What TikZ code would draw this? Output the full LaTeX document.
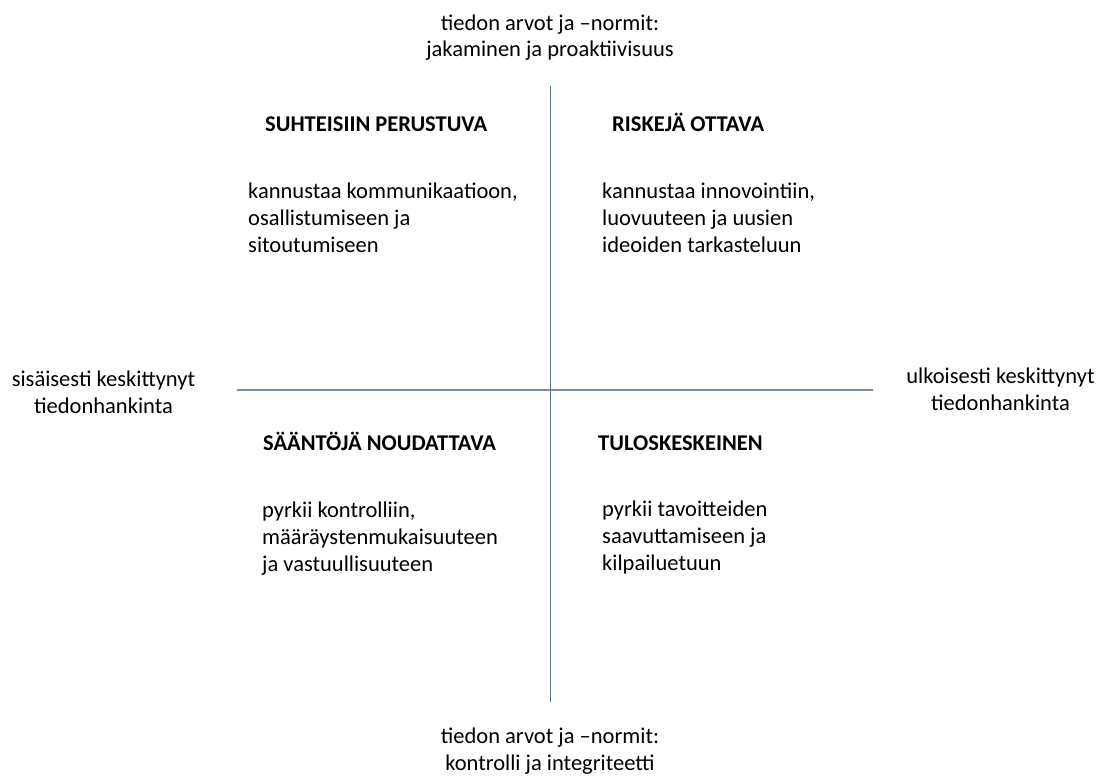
\documentclass[tikz,border=0pt]{standalone}
\usepackage{fontspec}
\setmainfont{Carlito}
\definecolor{vaxis}{RGB}{68,114,196}
\definecolor{haxis}{RGB}{122,142,178}
\begin{document}
\begin{tikzpicture}[x=1pt, y=-1pt,
        every node/.style={font=\fontsize{22.5}{26.6}\selectfont, inner sep=0pt},
        axislabel/.style={align=center, anchor=base},
        quadtitle/.style={anchor=base west, font=\fontsize{22.5}{26.6}\selectfont\bfseries},
        quadtext/.style={anchor=base west, align=left}]
        \useasboundingbox (0,0) rectangle (1103,776);
        \pgfmathsetmacro{\cx}{550};
        \pgfmathsetmacro{\cy}{390};
        % axes
        \coordinate (top) at (\cx, 86);
        \coordinate (bottom) at (\cx, 702);
        \coordinate (left) at (237, \cy);
        \coordinate (right) at (873, \cy);
        \draw [haxis, line width=1.3pt] (left) -- (right);
        \draw [vaxis, line width=1pt] (top) -- (bottom);
        % axis labels (base = last line)
        \node [axislabel] (upper) at (\cx, 57) {tiedon arvot ja –normit:\\jakaminen ja proaktiivisuus};
        \node [axislabel] (lower) at (\cx, 770) {tiedon arvot ja –normit:\\kontrolli ja integriteetti};
        \node [axislabel] (inner) at (103.5, 413) {sisäisesti keskittynyt\\tiedonhankinta};
        \node [axislabel] (outer) at (1000.5, 410) {ulkoisesti keskittynyt\\tiedonhankinta};
        % quadrants
        \node [quadtitle] (relT) at (265, 131) {SUHTEISIIN PERUSTUVA};
        \node [quadtext] (relD) at (248, 252) {kannustaa kommunikaatioon,\\osallistumiseen ja\\sitoutumiseen};
        \node [quadtitle] (riskT) at (612, 131) {RISKEJÄ OTTAVA};
        \node [quadtext] (riskD) at (602, 252) {kannustaa innovointiin,\\luovuuteen ja uusien\\ideoiden tarkasteluun};
        \node [quadtitle] (ruleT) at (263, 450) {SÄÄNTÖJÄ NOUDATTAVA};
        \node [quadtext] (ruleD) at (262, 571) {pyrkii kontrolliin,\\määräystenmukaisuuteen\\ja vastuullisuuteen};
        \node [quadtitle] (resT) at (598, 450) {TULOSKESKEINEN};
        \node [quadtext] (resD) at (602, 570) {pyrkii tavoitteiden\\saavuttamiseen ja\\kilpailuetuun};
    \end{tikzpicture}
\end{document}
